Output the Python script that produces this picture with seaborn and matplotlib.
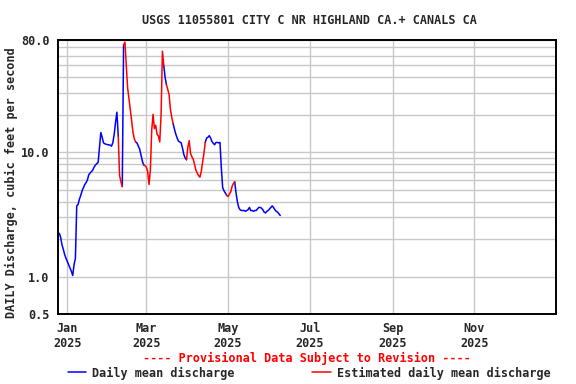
import numpy as np
import pandas as pd
import matplotlib
matplotlib.use("Agg")
import matplotlib.pyplot as plt
import matplotlib.dates as mdates
from matplotlib.lines import Line2D
from matplotlib.ticker import FixedLocator, FixedFormatter, NullFormatter
import seaborn as sns

# daily mean discharge, cfs, starting 2024-12-26
start_date = "2024-12-26"
dec_2024 = [2.23, 2.06, 1.8, 1.65, 1.5, 1.4]
jan_2025 = [1.32, 1.24, 1.17, 1.10, 1.02, 1.25, 1.4, 3.7, 3.8, 4.2,
            4.5, 4.9, 5.2, 5.5, 5.7, 6.0, 6.6, 6.8, 7.0, 7.2,
            7.6, 7.9, 8.1, 8.3, 11.0, 14.4, 13.2, 11.9, 11.7, 11.6, 11.5]
feb_2025 = [11.5, 11.4, 11.2, 12.0, 14.0, 17.5, 21.0, 13.5, 6.5, 5.8,
            5.3, 73.0, 77.0, 50.0, 33.0, 27.0, 22.0, 18.0, 14.5, 12.8,
            12.1, 11.9, 11.2, 10.6, 9.5, 8.5, 7.9, 7.8]
mar_2025 = [7.6, 7.0, 5.5, 7.2, 15.0, 20.2, 15.5, 16.5, 14.0, 13.5,
            12.1, 20.0, 65.0, 50.0, 40.0, 35.0, 32.0, 29.0, 22.0, 19.0,
            17.0, 15.3, 14.0, 13.0, 12.3, 12.1, 11.9, 10.8, 9.6, 9.0, 8.7]
apr_2025 = [11.0, 12.4, 9.8, 9.2, 8.8, 8.0, 7.2, 6.8, 6.5, 6.3,
            7.0, 8.3, 9.8, 12.0, 13.0, 13.2, 13.6, 13.0, 12.2, 11.8,
            11.5, 12.0, 12.0, 11.9, 12.0, 7.5, 5.2, 4.9, 4.7, 4.5]
may_2025 = [4.4, 4.6, 4.8, 5.3, 5.6, 5.8, 4.7, 4.0, 3.6, 3.45,
            3.4, 3.4, 3.4, 3.35, 3.4, 3.45, 3.6, 3.4, 3.4, 3.35,
            3.4, 3.4, 3.5, 3.6, 3.6, 3.55, 3.45, 3.3, 3.25, 3.35, 3.4]
jun_2025 = [3.5, 3.6, 3.7, 3.6, 3.45, 3.35, 3.3, 3.2, 3.1]

estimated_periods = [("2025-02-09", "2025-02-11"), ("2025-02-13", "2025-02-21"),
                     ("2025-02-28", "2025-03-14"), ("2025-03-17", "2025-03-21"),
                     ("2025-04-01", "2025-04-14"), ("2025-05-01", "2025-05-06")]

x_ticks = ["2025-01-01", "2025-03-01", "2025-05-01", "2025-07-01", "2025-09-01", "2025-11-01"]
y_ticks = [0.5, 1, 10, 80]
y_labels = ["0.5", "1.0", "10.0", "80.0"]
y_grid = [2, 3, 4, 5, 6, 7, 8, 9, 20, 30, 40, 50, 60, 70]

flow = dec_2024 + jan_2025 + feb_2025 + mar_2025 + apr_2025 + may_2025 + jun_2025
df = pd.DataFrame({"date": pd.date_range(start_date, periods=len(flow), freq="D"),
                   "cfs": flow})
df["est"] = False
for a, b in estimated_periods:
    df.loc[(df["date"] >= a) & (df["date"] <= b), "est"] = True

# each segment takes the status of the day it ends on; group into runs
lab_d, lab_e = "Daily mean discharge", "Estimated daily mean discharge"
kind = np.where(df["est"].values[1:], lab_e, lab_d)
rows = []
run = 0
for i, k in enumerate(kind):
    if i > 0 and k != kind[i - 1]:
        run += 1
    rows.append((run, k, df["date"][i], df["cfs"][i]))
    rows.append((run, k, df["date"][i + 1], df["cfs"][i + 1]))
seg = pd.DataFrame(rows, columns=["run", "kind", "date", "cfs"]).drop_duplicates(["run", "date"])

sns.set_theme(style="white")
plt.rcParams["font.family"] = ["DejaVu Sans Mono"]
plt.rcParams["font.weight"] = "bold"
fs = 8.5

fig = plt.figure(figsize=(5.76, 3.84), dpi=100)
ax = fig.add_axes([58 / 576, 1 - 314 / 384, 498 / 576, 274 / 384])

pal = {lab_d: "#0000ff", lab_e: "#ff0000"}
sns.lineplot(data=seg, x="date", y="cfs", hue="kind", units="run", estimator=None,
             palette=pal, linewidth=1.1, legend=False, ax=ax)

ax.set_yscale("log")
ax.set_ylim(0.5, 80)
ax.yaxis.set_major_locator(FixedLocator(y_ticks))
ax.yaxis.set_major_formatter(FixedFormatter(y_labels))
ax.yaxis.set_minor_locator(FixedLocator(y_grid))
ax.yaxis.set_minor_formatter(NullFormatter())

ax.set_xlim(pd.Timestamp("2024-12-25"), pd.Timestamp("2026-01-01"))
ax.xaxis.set_major_locator(FixedLocator(mdates.date2num(pd.to_datetime(x_ticks))))
ax.xaxis.set_major_formatter(mdates.DateFormatter("%b\n%Y"))

ax.grid(True, which="both", color="#c8c8c8", linewidth=1.0)
ax.set_axisbelow(True)
ax.tick_params(which="both", length=0, labelsize=fs)
ax.tick_params(axis="y", pad=6)
ax.tick_params(axis="x", pad=6)
for t in ax.get_xticklabels() + ax.get_yticklabels():
    t.set_fontweight("bold")
for s in ax.spines.values():
    s.set_color("black")
    s.set_linewidth(1.4)
ax.set_xlabel("")
ax.set_ylabel("")

fig.text(11 / 576, 1 - 183 / 384, "DAILY Discharge, cubic feet per second",
         rotation=90, ha="center", va="center", fontsize=fs, fontweight="bold")
fig.text(309 / 576, 1 - 21 / 384, "USGS 11055801 CITY C NR HIGHLAND CA.+ CANALS CA",
         ha="center", va="center", fontsize=fs, fontweight="bold")
fig.text(307 / 576, 1 - 358 / 384, "---- Provisional Data Subject to Revision ----",
         ha="center", va="center", fontsize=fs, fontweight="bold", color="#ff0000")

handles = [Line2D([], [], color="#0000ff", lw=1.1), Line2D([], [], color="#ff0000", lw=1.1)]
fig.legend(handles, [lab_d, lab_e], loc="center", bbox_to_anchor=(309 / 576, 1 - 373 / 384),
           ncol=2, frameon=False, handlelength=1.55, handletextpad=0.5, columnspacing=6.6,
           borderpad=0, prop={"family": "DejaVu Sans Mono", "weight": "bold", "size": fs})

fig.savefig("out.png", dpi=100)
